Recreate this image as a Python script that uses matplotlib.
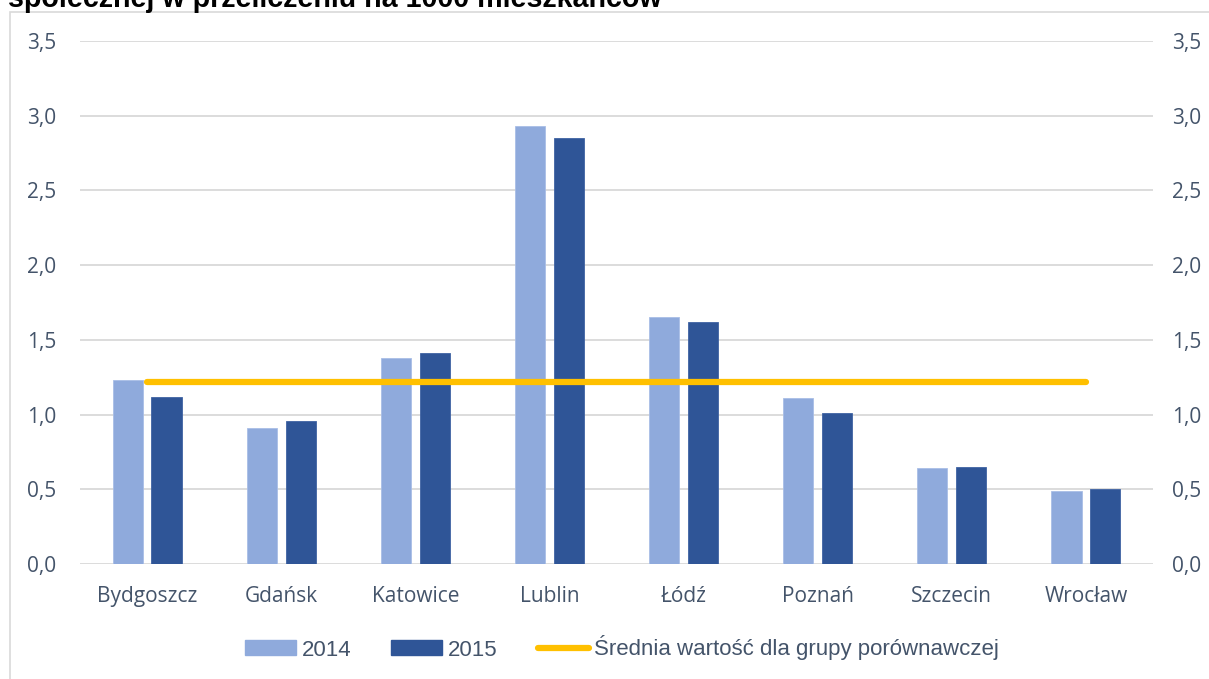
import matplotlib
matplotlib.use("Agg")
import numpy as np
import matplotlib.pyplot as plt
from matplotlib.patches import Rectangle, Patch
from matplotlib.lines import Line2D
from matplotlib.ticker import FuncFormatter

cities = ["Bydgoszcz", "Gdańsk", "Katowice", "Lublin", "Łódź", "Poznań", "Szczecin", "Wrocław"]
v2014 = [1.23, 0.91, 1.38, 2.93, 1.65, 1.11, 0.64, 0.49]
v2015 = [1.12, 0.96, 1.41, 2.85, 1.62, 1.01, 0.65, 0.50]
avg = 1.22
yticks = [0.0, 0.5, 1.0, 1.5, 2.0, 2.5, 3.0, 3.5]

c14 = "#8FAADC"
c15 = "#2F5597"
cavg = "#FFC000"
txt = "#44546A"
grid = "#D9D9D9"

W, H = 1209, 679
fig = plt.figure(figsize=(W / 100, H / 100), dpi=100)
ax = fig.add_axes([80 / W, 1 - 564 / H, (1153 - 80) / W, (564 - 41) / H])

x = np.arange(len(cities))
bw = 0.225
ax.bar(x - 0.145, v2014, bw, color=c14, edgecolor="#A9BEE6", linewidth=0.6, zorder=2)
ax.bar(x + 0.145, v2015, bw, color=c15, edgecolor="#3F63A3", linewidth=0.6, zorder=2)
ax.plot([x[0], x[-1]], [avg, avg], color=cavg, lw=4.5, solid_capstyle="round", zorder=3)

ax.set_xlim(-0.5, len(cities) - 0.5)
ax.set_ylim(0, 3.5)
ax.set_yticks(yticks)
fmt = FuncFormatter(lambda v, p: f"{v:.1f}".replace(".", ","))
ax.yaxis.set_major_formatter(fmt)
ax.grid(axis="y", color=grid, lw=1.3, zorder=0)
ax.set_xticks(x)
ax.set_xticklabels(cities)
for s in ax.spines.values():
    s.set_visible(False)
ax.tick_params(axis="both", length=0, labelsize=15, labelcolor=txt, labelfontfamily="Open Sans")
ax.tick_params(axis="y", pad=17)
ax.tick_params(axis="x", pad=16)

ax2 = ax.twinx()
ax2.set_ylim(0, 3.5)
ax2.set_yticks(yticks)
ax2.yaxis.set_major_formatter(fmt)
for s in ax2.spines.values():
    s.set_visible(False)
ax2.tick_params(axis="y", length=0, labelsize=15, labelcolor=txt, pad=14, labelfontfamily="Open Sans")

handles = [Patch(color=c14), Patch(color=c15), Line2D([], [], color=cavg, lw=4.5, solid_capstyle="round")]
labels = ["2014", "2015", "Średnia wartość dla grupy porównawczej"]
fig.legend(handles, labels, loc="center", bbox_to_anchor=(622 / W, 1 - 648 / H), ncol=3, frameon=False,
           prop={"family": ["Liberation Sans Narrow", "Liberation Sans"], "size": 16},
           labelcolor=txt, handlelength=2.3, handleheight=0.65, handletextpad=0.25, columnspacing=1.8)

fig.text(8 / W, 1 - 7 / H, "społecznej w przeliczeniu na 1000 mieszkańców", ha="left", va="baseline",
         fontsize=20.6, fontweight="bold", family="Liberation Sans", color="#000000")

fig.patches.append(Rectangle((10 / W, -0.05), 1.1, 1 - 12 / H + 0.05, transform=fig.transFigure,
                             fill=False, edgecolor=grid, lw=1.2))

fig.savefig("out.png", dpi=100)
